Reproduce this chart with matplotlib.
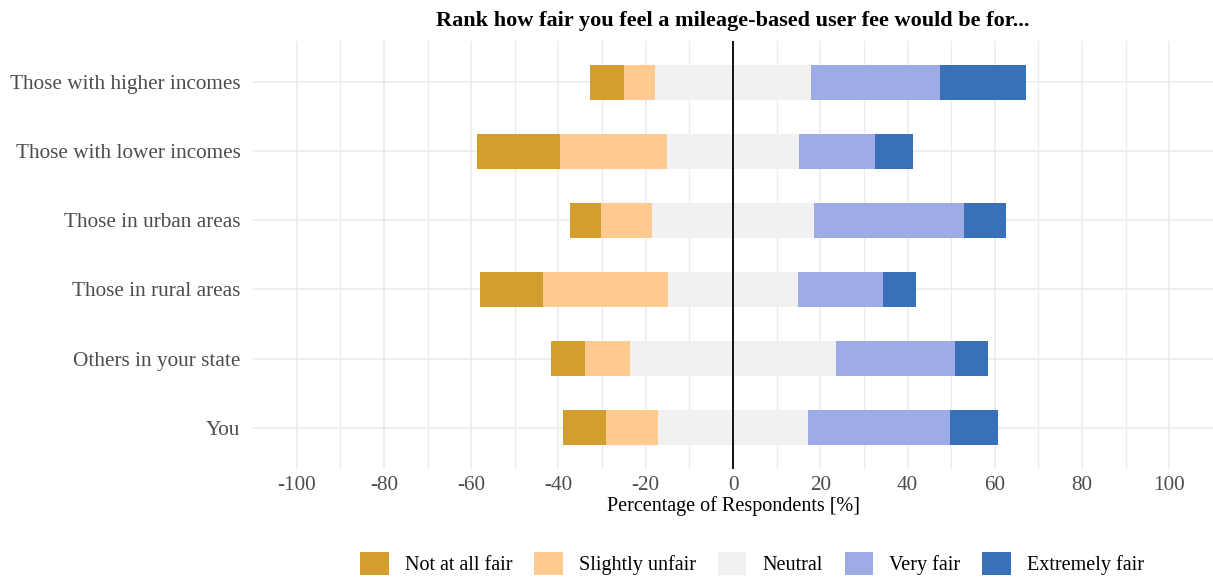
import matplotlib
matplotlib.use("Agg")
import matplotlib.pyplot as plt
import numpy as np
from matplotlib.patches import Patch

# categories, top to bottom
groups = ["Those with higher incomes", "Those with lower incomes", "Those in urban areas",
          "Those in rural areas", "Others in your state", "You"]
levels = ["Not at all fair", "Slightly unfair", "Neutral", "Very fair", "Extremely fair"]

# percentages per group
not_at_all_fair = [7.8, 19.0, 7.0, 14.4, 7.7, 10.0]
slightly_unfair = [7.1, 24.5, 11.8, 28.7, 10.3, 11.8]
neutral = [35.8, 30.3, 37.1, 29.9, 47.4, 34.5]
very_fair = [29.6, 17.4, 34.5, 19.5, 27.2, 32.4]
extremely_fair = [19.7, 8.8, 9.5, 7.5, 7.5, 11.1]

x_ticks = [-100, -80, -60, -40, -20, 0, 20, 40, 60, 80, 100]

colors = ["#D29E2E", "#FFCA8F", "#F1F1F1", "#9DACE6", "#3870B9"]

plt.rcParams['font.family'] = ['Liberation Serif', 'DejaVu Serif']

fig = plt.figure(figsize=(12.13, 5.81), dpi=100)
ax = fig.add_axes([0.2086, 0.1928, 0.7914, 0.7367])

y = np.arange(len(groups))[::-1] + 1
naf = np.array(not_at_all_fair)
su = np.array(slightly_unfair)
neu = np.array(neutral)
vf = np.array(very_fair)
ef = np.array(extremely_fair)

h = 0.5
# neutral split around zero, the rest stacked outward
left_neu = -neu / 2
ax.barh(y, neu, left=left_neu, height=h, color=colors[2], zorder=2)
ax.barh(y, -su, left=left_neu, height=h, color=colors[1], zorder=2)
ax.barh(y, -naf, left=left_neu - su, height=h, color=colors[0], zorder=2)
ax.barh(y, vf, left=neu / 2, height=h, color=colors[3], zorder=2)
ax.barh(y, ef, left=neu / 2 + vf, height=h, color=colors[4], zorder=2)

ax.axvline(0, color="black", lw=1.3, zorder=3)

ax.set_xlim(-110, 110)
ax.set_ylim(0.4, len(groups) + 0.6)
ax.set_xticks(x_ticks)
ax.set_xticklabels([str(t) for t in x_ticks])
ax.set_xticks(np.arange(-90, 100, 20), minor=True)
ax.set_yticks(y)
ax.set_yticklabels(groups)

ax.grid(True, which="major", color="#EBEBEB", lw=1.1, zorder=0)
ax.grid(True, which="minor", axis="x", color="#EBEBEB", lw=1.0, zorder=0)
ax.set_axisbelow(True)
for s in ax.spines.values():
    s.set_visible(False)
ax.tick_params(axis="both", which="both", length=0, labelsize=15.3, colors="#4D4D4D")
ax.tick_params(axis="y", pad=9)
ax.tick_params(axis="x", pad=5)

ax.set_xlabel("Percentage of Respondents [%]", fontsize=14.5, labelpad=1)
ax.set_title("Rank how fair you feel a mileage-based user fee would be for...",
             fontsize=16, fontweight="bold", pad=11)

handles = [Patch(facecolor=c, edgecolor="none") for c in colors]
fig.legend(handles, levels, loc="center", bbox_to_anchor=(0.62, 0.03), ncol=5,
           frameon=False, fontsize=14.5, handlelength=1.4, handleheight=1.4,
           columnspacing=1.1, handletextpad=0.8)

fig.savefig("out.png", dpi=100)
